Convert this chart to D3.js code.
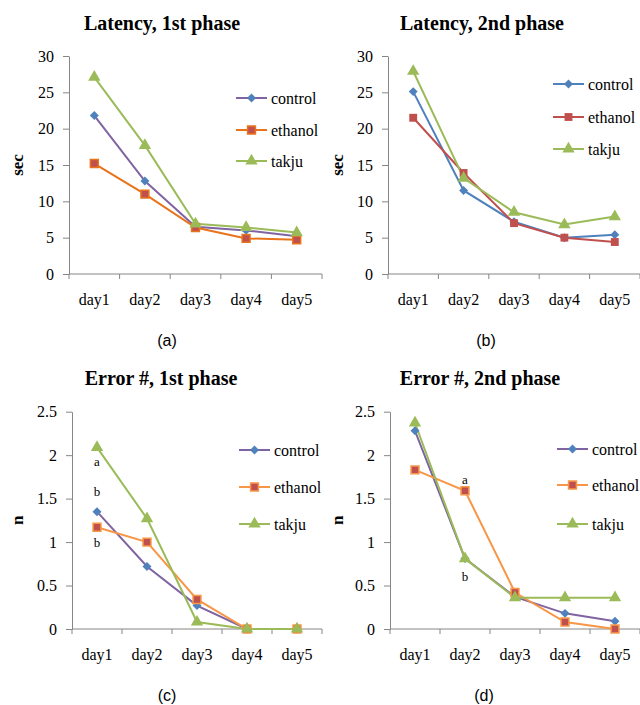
<!DOCTYPE html>
<head>
<meta charset="utf-8">
<style>
    body { margin: 0; background: #fff; }
    svg { display: block; }
</style>
</head>
<body>
    <script src="https://d3js.org/d3.v7.min.js"></script>
    <script>

    ///////////////////////////
    ////////// DATA ///////////
    ///////////////////////////

    const days = ['day1', 'day2', 'day3', 'day4', 'day5'];
    const groups = ['control', 'ethanol', 'takju'];

    // latency (sec)
    const lat1Control = [21.8, 12.8, 6.5, 6.0, 5.2];
    const lat1Ethanol = [15.2, 11.0, 6.4, 4.9, 4.7];
    const lat1Takju   = [27.1, 17.7, 6.9, 6.4, 5.7];

    const lat2Control = [25.1, 11.5, 7.2, 5.0, 5.4];
    const lat2Ethanol = [21.5, 13.9, 7.0, 5.0, 4.4];
    const lat2Takju   = [27.9, 13.2, 8.5, 6.8, 7.9];

    // error count (n)
    const err1Control = [1.35, 0.72, 0.27, 0, 0];
    const err1Ethanol = [1.17, 1.00, 0.34, 0, 0];
    const err1Takju   = [2.09, 1.27, 0.08, 0, 0];

    const err2Control = [2.28, 0.81, 0.37, 0.18, 0.09];
    const err2Ethanol = [1.83, 1.59, 0.42, 0.08, 0];
    const err2Takju   = [2.37, 0.81, 0.36, 0.36, 0.36];

    const latTicks = [0, 5, 10, 15, 20, 25, 30];
    const errTicks = [0, 0.5, 1, 1.5, 2, 2.5];

    ///////////////////////////
    ////////// SETUP //////////
    ///////////////////////////

    const svg = d3.select('body').append('svg')
        .attr('width', 640)
        .attr('height', 705);

    const serif = 'Liberation Serif, Times New Roman, serif';
    const sans = 'Liberation Sans, Arial, sans-serif';

    const panels = [
        { title: 'Latency, 1st phase', caption: '(a)', ylab: 'sec', ox: 69, top: 56, bottom: 274, w: 253,
          max: 30, ticks: latTicks, series: [lat1Control, lat1Ethanol, lat1Takju],
          colors: ['#8064A2', '#E8731A', '#9BBB59'], marks: ['#4F81BD', '#C0504D', '#9BBB59'], edge: [null, '#E8731A', null],
          titleX: 162, titleY: 30, capX: 167, capY: 346, ylabX: 17, legX: 236, legY: [98, 130, 161], notes: [] },
        { title: 'Latency, 2nd phase', caption: '(b)', ylab: 'sec', ox: 388, top: 56, bottom: 274, w: 252,
          max: 30, ticks: latTicks, series: [lat2Control, lat2Ethanol, lat2Takju],
          colors: ['#4F81BD', '#C0504D', '#9BBB59'], marks: ['#4F81BD', '#C0504D', '#9BBB59'], edge: [null, null, null],
          titleX: 482, titleY: 30, capX: 486, capY: 346, ylabX: 337, legX: 553, legY: [84, 117, 149], notes: [] },
        { title: 'Error #, 1st phase', caption: '(c)', ylab: 'n', ox: 72, top: 411.7, bottom: 629, w: 250,
          max: 2.5, ticks: errTicks, series: [err1Control, err1Ethanol, err1Takju],
          colors: ['#8064A2', '#F79646', '#9BBB59'], marks: ['#4F81BD', '#C0504D', '#9BBB59'], edge: [null, '#F79646', null],
          titleX: 161, titleY: 385, capX: 167, capY: 701, ylabX: 17, legX: 239, legY: [450, 487, 524],
          notes: [{t: 'a', d: 0, v: 1.93}, {t: 'b', d: 0, v: 1.58}, {t: 'b', d: 0, v: 1.0}] },
        { title: 'Error #, 2nd phase', caption: '(d)', ylab: 'n', ox: 390, top: 411.7, bottom: 629, w: 250,
          max: 2.5, ticks: errTicks, series: [err2Control, err2Ethanol, err2Takju],
          colors: ['#8064A2', '#F79646', '#9BBB59'], marks: ['#4F81BD', '#C0504D', '#9BBB59'], edge: [null, '#F79646', null],
          titleX: 480, titleY: 385, capX: 484, capY: 701, ylabX: 337, legX: 557, legY: [449, 485, 524],
          notes: [{t: 'a', d: 1, v: 1.72}, {t: 'b', d: 1, v: 0.60}] }
    ];

    // diamond = square turned 45 degrees
    const shapes = [d3.symbolSquare, d3.symbolSquare, d3.symbolTriangle];
    const sizes = [40, 62, 66];
    const turns = [45, 0, 0];

    ////////////////////////////
    ////////// PANELS //////////
    ////////////////////////////

    panels.forEach(p => {
        const g = svg.append('g');

        const x = d3.scaleBand().domain(days).range([p.ox, p.ox + p.w]);
        const y = d3.scaleLinear().domain([0, p.max]).range([p.bottom, p.top]);

        // y axis
        const yAxis = g.append('g')
            .attr('transform', 'translate(' + p.ox + ',0)')
            .call(d3.axisLeft(y).tickValues(p.ticks).tickFormat(d3.format('~g'))
                .tickSize(6).tickPadding(9).tickSizeOuter(0));
        yAxis.selectAll('.tick text')
            .style('font-family', serif).style('font-size', '16px').attr('fill', '#000');
        yAxis.selectAll('.domain, .tick line').attr('stroke', '#868686');

        // x axis with ticks between categories
        const xAxis = g.append('g')
            .attr('transform', 'translate(0,' + p.bottom + ')')
            .call(d3.axisBottom(x).tickSize(0).tickPadding(20));
        xAxis.selectAll('.tick text')
            .style('font-family', serif).style('font-size', '16px').attr('fill', '#000');
        xAxis.select('.domain').attr('d', 'M' + p.ox + ',0H' + (p.ox + p.w)).attr('stroke', '#868686');
        xAxis.selectAll('.sep').data(d3.range(days.length + 1))
            .enter().append('line')
            .attr('x1', i => p.ox + i * x.step())
            .attr('x2', i => p.ox + i * x.step())
            .attr('y1', 0).attr('y2', 5)
            .attr('stroke', '#868686');

        // title
        g.append('text')
            .attr('x', p.titleX).attr('y', p.titleY)
            .attr('text-anchor', 'middle')
            .style('font-family', serif).style('font-weight', 'bold').style('font-size', '20px')
            .text(p.title);

        // y label
        g.append('text')
            .attr('transform', 'translate(' + p.ylabX + ',' + ((p.top + p.bottom) / 2) + ') rotate(-90)')
            .attr('text-anchor', 'middle')
            .attr('dy', '0.35em')
            .style('font-family', serif).style('font-weight', 'bold').style('font-size', '17px')
            .text(p.ylab);

        // caption
        g.append('text')
            .attr('x', p.capX).attr('y', p.capY)
            .attr('text-anchor', 'middle')
            .style('font-family', sans).style('font-size', '16px')
            .text(p.caption);

        const line = d3.line()
            .x((d, i) => x(days[i]) + x.bandwidth() / 2)
            .y(d => y(d));

        p.series.forEach((s, k) => {
            g.append('path')
                .datum(s)
                .attr('d', line)
                .attr('fill', 'none')
                .attr('stroke', p.colors[k])
                .attr('stroke-width', 2);
        });

        p.series.forEach((s, k) => {
            g.selectAll('.m' + k).data(s)
                .enter().append('path')
                .attr('d', d3.symbol().type(shapes[k]).size(sizes[k]))
                .attr('transform', (d, i) => 'translate(' + (x(days[i]) + x.bandwidth() / 2) + ',' + y(d) + ') rotate(' + turns[k] + ')')
                .attr('fill', p.marks[k])
                .attr('stroke', p.edge[k] || 'none')
                .attr('stroke-width', 1.5);
        });

        // legend
        groups.forEach((name, k) => {
            const ly = p.legY[k];
            g.append('line')
                .attr('x1', p.legX).attr('x2', p.legX + 31)
                .attr('y1', ly).attr('y2', ly)
                .attr('stroke', p.colors[k]).attr('stroke-width', 2);
            g.append('path')
                .attr('d', d3.symbol().type(shapes[k]).size(sizes[k]))
                .attr('transform', 'translate(' + (p.legX + 15.5) + ',' + ly + ') rotate(' + turns[k] + ')')
                .attr('fill', p.marks[k])
                .attr('stroke', p.edge[k] || 'none')
                .attr('stroke-width', 1.5);
            g.append('text')
                .attr('x', p.legX + 35).attr('y', ly)
                .attr('dy', '0.35em')
                .style('font-family', serif).style('font-size', '16px')
                .text(name);
        });

        // significance letters
        g.selectAll('.note').data(p.notes)
            .enter().append('text')
            .attr('x', d => x(days[d.d]) + x.bandwidth() / 2)
            .attr('y', d => y(d.v))
            .attr('text-anchor', 'middle')
            .attr('dy', '0.35em')
            .style('font-family', serif).style('font-size', '13px')
            .text(d => d.t);
    });

    </script>
</body>
